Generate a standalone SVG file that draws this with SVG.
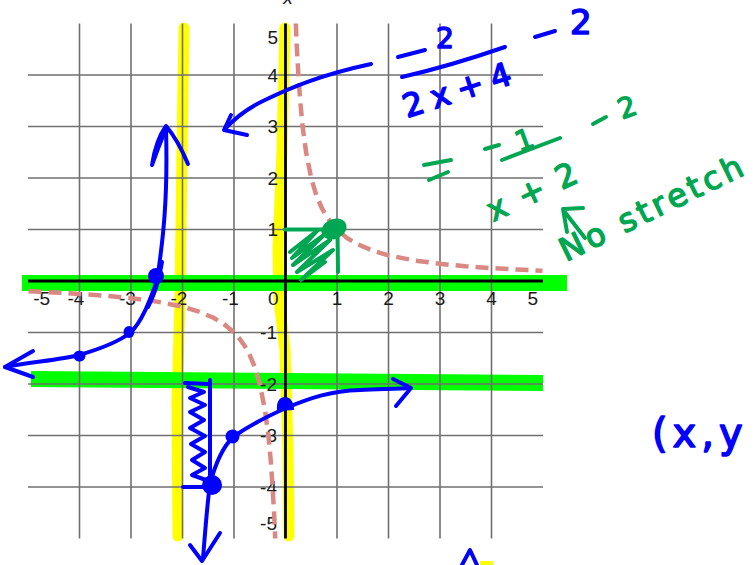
<svg xmlns="http://www.w3.org/2000/svg" width="755" height="565" viewBox="0 0 755 565">
<style>
.grid{stroke:#707070;stroke-width:1.6;fill:none}
.axis{stroke:#000;stroke-width:2.8;fill:none}
.tick{font-family:"Liberation Sans",Arial,sans-serif;font-size:19px;fill:#1a1a1a}
.yel{stroke:#ffff00;stroke-width:11;fill:none;stroke-linecap:round;stroke-linejoin:round}
.grn{stroke:#00ff00;stroke-width:16;fill:none;stroke-linecap:butt}
.dash{stroke:#d98882;stroke-width:4.5;fill:none;stroke-dasharray:13 7}
.bl{stroke:#0000ff;stroke-width:4;fill:none;stroke-linecap:round;stroke-linejoin:round}
.bld{fill:#0000ff}
.gr{stroke:#00a651;stroke-width:4;fill:none;stroke-linecap:round;stroke-linejoin:round}
.hwb{font-family:"DejaVu Sans",sans-serif;fill:#0000ff;stroke:#0000ff;stroke-width:1.6;stroke-linejoin:round}
.hwg{font-family:"DejaVu Sans",sans-serif;fill:#00a651;stroke:#00a651;stroke-width:1.4;stroke-linejoin:round}
</style>
<rect width="755" height="565" fill="#fff"/>
<g id="highlights-yellow">
<path class="yel" d="M184,28 L182,150 L180,300 L177,400 L178,536"/>
<path class="yel" d="M285,28 L282,150 L278,250 L279,300 L285,350 L288,450 L289,536"/>
<rect x="480" y="561" width="13" height="4" fill="#ffff00"/>
</g>
<g id="highlights-green">
<path class="grn" d="M22,283 L567,283" stroke-linecap="round"/>
<path class="grn" d="M31,379 L288,381 L543,383"/>
</g>
<g id="grid">
<path class="grid" d="M79.5,23.5V538.5M131,23.5V538.5M182.5,23.5V538.5M234,23.5V538.5M337,23.5V538.5M388.5,23.5V538.5M440,23.5V538.5M491.5,23.5V538.5"/>
<path class="grid" d="M28,75H543M28,126.5H543M28,178H543M28,229.5H543M28,332.5H543M28,384H543M28,435.5H543M28,487H543"/>
<path class="axis" d="M28,281H543M285.5,23.5V538.5"/>
</g>
<g id="labels">
<text class="tick" x="288" y="4" text-anchor="middle" font-style="italic">x</text>
<g text-anchor="end">
<text class="tick" x="278" y="43.5">5</text>
<text class="tick" x="278" y="81.5">4</text>
<text class="tick" x="278" y="133">3</text>
<text class="tick" x="278" y="185">2</text>
<text class="tick" x="278" y="235.5">1</text>
<text class="tick" x="277" y="338.5">-1</text>
<text class="tick" x="277" y="390.5">-2</text>
<text class="tick" x="277" y="442">-3</text>
<text class="tick" x="277" y="493.5">-4</text>
<text class="tick" x="277" y="530">-5</text>
</g>
<g text-anchor="middle">
<text class="tick" x="41.7" y="305">-5</text>
<text class="tick" x="76" y="305">-4</text>
<text class="tick" x="127.5" y="305">-3</text>
<text class="tick" x="179" y="305">-2</text>
<text class="tick" x="230.5" y="305">-1</text>
<text class="tick" x="273.3" y="305">0</text>
<text class="tick" x="337" y="305">1</text>
<text class="tick" x="388.5" y="305">2</text>
<text class="tick" x="440" y="305">3</text>
<text class="tick" x="491.5" y="305">4</text>
<text class="tick" x="532.8" y="305">5</text>
</g>
</g>
<g id="curve-dashed">
<path class="dash" d="M295.8,23.5 L296.8,46.9 L298.4,75 L300.2,100.8 L302.6,126.5 L306.1,152.3 L311.2,178 L316.3,195.2 L321.5,207.4 L326.6,216.6 L331.8,223.8 L337,229.5 L347.2,238.1 L357.5,244.2 L372.9,250.7 L388.3,255.3 L414,260.4 L439.7,263.8 L465.4,266.3 L491.1,268.1 L516.8,269.6 L542.5,270.7"/>
<path class="dash" d="M28.5,291.3 L54.2,292.4 L79.9,293.9 L105.6,295.7 L131.3,298.2 L157,301.6 L182.7,306.7 L198.1,311.3 L213.5,317.8 L223.8,323.9 L234,332.5 L239.2,338.2 L244.4,345.4 L249.5,354.6 L254.7,366.8 L259.8,384 L264.9,409.7 L268.4,435.5 L270.8,461.2 L272.6,487 L274.2,515.1 L275.2,538.5"/>
</g>
<g id="blue-ink">
<path class="bl" d="M5,367 C30,362 60,360 79,355 C100,349 118,342 130,333 C142,322 150,300 157,281 C163,240 168,200 166,128"/>
<path class="bl" stroke-width="2.5" d="M148,307 C154,295 158,285 162,262"/>
<path class="bl" d="M152,165 Q156,140 166,126 Q178,140 188,164 M165,131 Q158,148 152,165"/>
<path class="bl" d="M33,351 L5,367 L33,377"/>
<ellipse class="bld" cx="79.5" cy="356" rx="6" ry="5.5"/>
<ellipse class="bld" cx="129" cy="332" rx="5.5" ry="6"/>
<circle class="bld" cx="156" cy="276" r="8"/>
<path class="bl" d="M203,558 C205,535 207,505 210,484 C215,465 222,448 233,437 C250,425 268,416 286,408 C310,398 330,391 360,390 C380,389 398,389 410,388"/>
<path class="bl" d="M393,379 L411,388 L396,406"/>
<path class="bl" d="M190,545 L202,561 L220,533"/>
<circle class="bld" cx="212" cy="485" r="10"/>
<circle class="bld" cx="232.5" cy="436.5" r="7"/>
<path class="bld" d="M277,411 C276,401 280,397 285,397 C291,397 294,403 294,410 Z"/>
<path class="bl" stroke-width="3" d="M210,380 L210,484 M185,383 L209,384 M183,487 L206,487"/>
<path class="bl" stroke-width="2.5" d="M188,387 L204,392 L190,398 L205,405 L190,412 L204,420 L190,428 L205,436 L191,444 L205,452 L192,460 L205,468 L192,475 L206,480"/>
<path class="bl" d="M371,64 C320,75 290,88 265,100 C248,108 235,118 225,129"/>
<path class="bl" d="M231,115 L224,130 L247,135"/>
<path class="bl" stroke-width="5" d="M462,565 L470,550 L477,565"/>
<path class="bl" stroke-width="5" d="M398,57 L425,50"/>
<text class="hwb" x="436" y="48" font-size="28">2</text>
<path class="bl" stroke-width="4.5" d="M402,77 Q450,66 505,47"/>
<text class="hwb" x="407" y="118" font-size="32" textLength="112" lengthAdjust="spacing" transform="rotate(-18 407 118)">2x+4</text>
<path class="bl" stroke-width="5" d="M535,37 L555,31"/>
<text class="hwb" x="570" y="34" font-size="34">2</text>
<text class="hwb" x="652" y="447" font-size="40" letter-spacing="5">(x,y</text>
</g>
<g id="green-ink">
<path class="gr" d="M285,229.5 L326,229.5 M337.5,232 L338,272"/>
<ellipse cx="334" cy="229" rx="13" ry="10" fill="#00a651" transform="rotate(-25 334 229)"/>
<path class="gr" stroke-width="5" d="M290,252 L318,230 L292,258 L325,234 L293,265 L330,240 L297,272 L333,250 L301,280 L325,262"/>
<path class="gr" d="M424,165 L451,160 M429,180 L448,172"/>
<path class="gr" d="M485,149 L499,145"/>
<text class="hwg" x="514" y="150" font-size="28" transform="rotate(-20 522 136)">1</text>
<path class="gr" d="M502,160 L560,138"/>
<path class="gr" d="M593,124 L606,117"/>
<text class="hwg" x="617" y="115" font-size="28" transform="rotate(-20 632 103)">2</text>
<text class="hwg" x="493" y="222" font-size="32" textLength="96" lengthAdjust="spacing" transform="rotate(-25 493 222)">x+2</text>
<path class="gr" d="M583,208 L563,209 L567,232 M564,211 L585,238"/>
<text class="hwg" x="566" y="262" font-size="32" textLength="200" lengthAdjust="spacing" transform="rotate(-26 566 262)">No stretch</text>
</g>
</svg>
